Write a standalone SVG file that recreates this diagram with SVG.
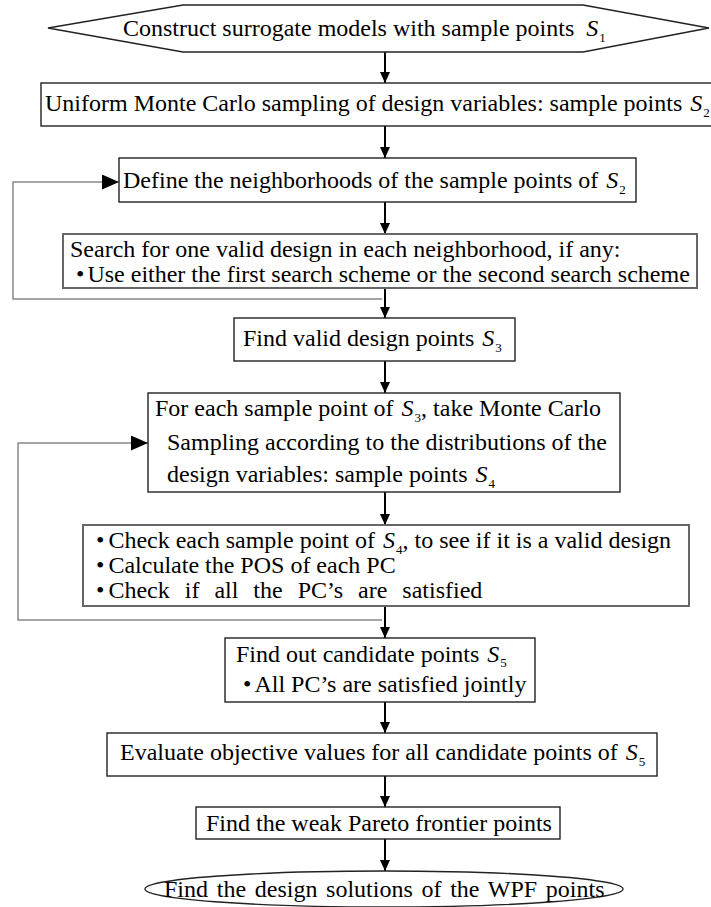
<svg xmlns="http://www.w3.org/2000/svg" width="711" height="907" viewBox="0 0 711 907">
  <defs>
    <style>
      text { font-family: "Liberation Serif", "Times New Roman", serif; font-size: 24px; fill: #000; }
      .m { font-style: italic; }
      .sub { font-size: 13px; }
      .box { fill: #fff; stroke: #222; stroke-width: 1.4; }
      .box2 { fill: #fff; stroke: #666; stroke-width: 2; }
      .flow { fill: none; stroke: #000; stroke-width: 2; marker-end: url(#head); }
      .loop { fill: none; stroke: #888; stroke-width: 1.5; marker-end: url(#bighead); }
    </style>
    <marker id="head" markerUnits="userSpaceOnUse" markerWidth="11" markerHeight="10" refX="11" refY="5" orient="auto">
      <path d="M0,0 L11,5 L0,10 z" fill="#000"/>
    </marker>
    <marker id="bighead" markerUnits="userSpaceOnUse" markerWidth="17" markerHeight="15" refX="17" refY="7.5" orient="auto">
      <path d="M0,0 L17,7.5 L0,15 z" fill="#000"/>
    </marker>
  </defs>

  <rect width="711" height="907" fill="#fff"/>

  <!-- connectors -->
  <g id="connectors">
    <line class="flow" x1="385" y1="52" x2="385" y2="83"/>
    <line class="flow" x1="385" y1="126" x2="385" y2="158"/>
    <line class="flow" x1="385" y1="202" x2="385" y2="234"/>
    <line class="flow" x1="385" y1="288" x2="385" y2="318"/>
    <line class="flow" x1="385" y1="361" x2="385" y2="393"/>
    <line class="flow" x1="385" y1="492" x2="385" y2="525"/>
    <line class="flow" x1="385" y1="606" x2="385" y2="638"/>
    <line class="flow" x1="385" y1="702" x2="385" y2="733"/>
    <line class="flow" x1="385" y1="776" x2="385" y2="807"/>
    <line class="flow" x1="385" y1="839" x2="385" y2="871"/>
    <polyline class="loop" points="382,299 13,299 13,182 119,182"/>
    <polyline class="loop" points="382,620 18,620 18,443 148,443"/>
  </g>

  <!-- start node -->
  <g id="n-construct">
    <polygon class="box" points="48,28 183,5 583,5 709,28 583,52 183,52"/>
    <text x="123" y="36">Construct surrogate models with sample points<tspan class="m" dx="12">S</tspan><tspan class="sub" dx="1" dy="6">1</tspan></text>
  </g>

  <g id="n-uniform">
    <rect class="box" x="41" y="83" width="690" height="43"/>
    <text x="45" y="111">Uniform Monte Carlo sampling of design variables: sample points<tspan class="m" dx="8">S</tspan><tspan class="sub" dx="1" dy="6">2</tspan></text>
  </g>

  <g id="n-define">
    <rect class="box" x="119" y="158" width="517" height="44"/>
    <text x="123" y="188">Define the neighborhoods of the sample points of<tspan class="m" dx="8">S</tspan><tspan class="sub" dx="1" dy="6">2</tspan></text>
  </g>

  <g id="n-search">
    <rect class="box2" x="63" y="234" width="634" height="54"/>
    <text x="70" y="257">Search for one valid design in each neighborhood, if any:</text>
    <text x="76" y="282">•<tspan dx="3">Use either the first search scheme or the second search scheme</tspan></text>
  </g>

  <g id="n-valid">
    <rect class="box" x="234" y="318" width="281" height="43"/>
    <text x="243" y="346">Find valid design points<tspan class="m" dx="8">S</tspan><tspan class="sub" dx="1" dy="6">3</tspan></text>
  </g>

  <g id="n-montecarlo">
    <rect class="box" x="148" y="393" width="472" height="99"/>
    <text x="155" y="416">For each sample point of<tspan class="m" dx="8">S</tspan><tspan class="sub" dx="1" dy="6">3</tspan><tspan dy="-6">, take Monte Carlo</tspan></text>
    <text x="167" y="450">Sampling according to the distributions of the</text>
    <text x="167" y="482">design variables: sample points<tspan class="m" dx="8">S</tspan><tspan class="sub" dx="1" dy="6">4</tspan></text>
  </g>

  <g id="n-check">
    <rect class="box2" x="83" y="525" width="606" height="81"/>
    <text x="96" y="548">•<tspan dx="4">Check each sample point of</tspan><tspan class="m" dx="8">S</tspan><tspan class="sub" dx="1" dy="6">4</tspan><tspan dy="-6">, to see if it is a valid design</tspan></text>
    <text x="96" y="573">•<tspan dx="4">Calculate the POS of each PC</tspan></text>
    <text x="96" y="598">•<tspan dx="4" word-spacing="9">Check if all the PC’s are satisfied</tspan></text>
  </g>

  <g id="n-candidate">
    <rect class="box" x="225" y="638" width="310" height="64"/>
    <text x="236" y="662">Find out candidate points<tspan class="m" dx="8">S</tspan><tspan class="sub" dx="1" dy="5">5</tspan></text>
    <text x="243" y="692">•<tspan dx="3">All PC’s are satisfied jointly</tspan></text>
  </g>

  <g id="n-evaluate">
    <rect class="box" x="107" y="733" width="550" height="43"/>
    <text x="120" y="760">Evaluate objective values for all candidate points of<tspan class="m" dx="8">S</tspan><tspan class="sub" dx="1" dy="6">5</tspan></text>
  </g>

  <g id="n-pareto">
    <rect class="box" x="196" y="807" width="364" height="32"/>
    <text x="206" y="831">Find the weak Pareto frontier points</text>
  </g>

  <!-- end node -->
  <g id="n-solutions">
    <ellipse class="box" cx="384" cy="889" rx="239" ry="18"/>
    <text x="164" y="897" word-spacing="2.7">Find the design solutions of the WPF points</text>
  </g>
</svg>
